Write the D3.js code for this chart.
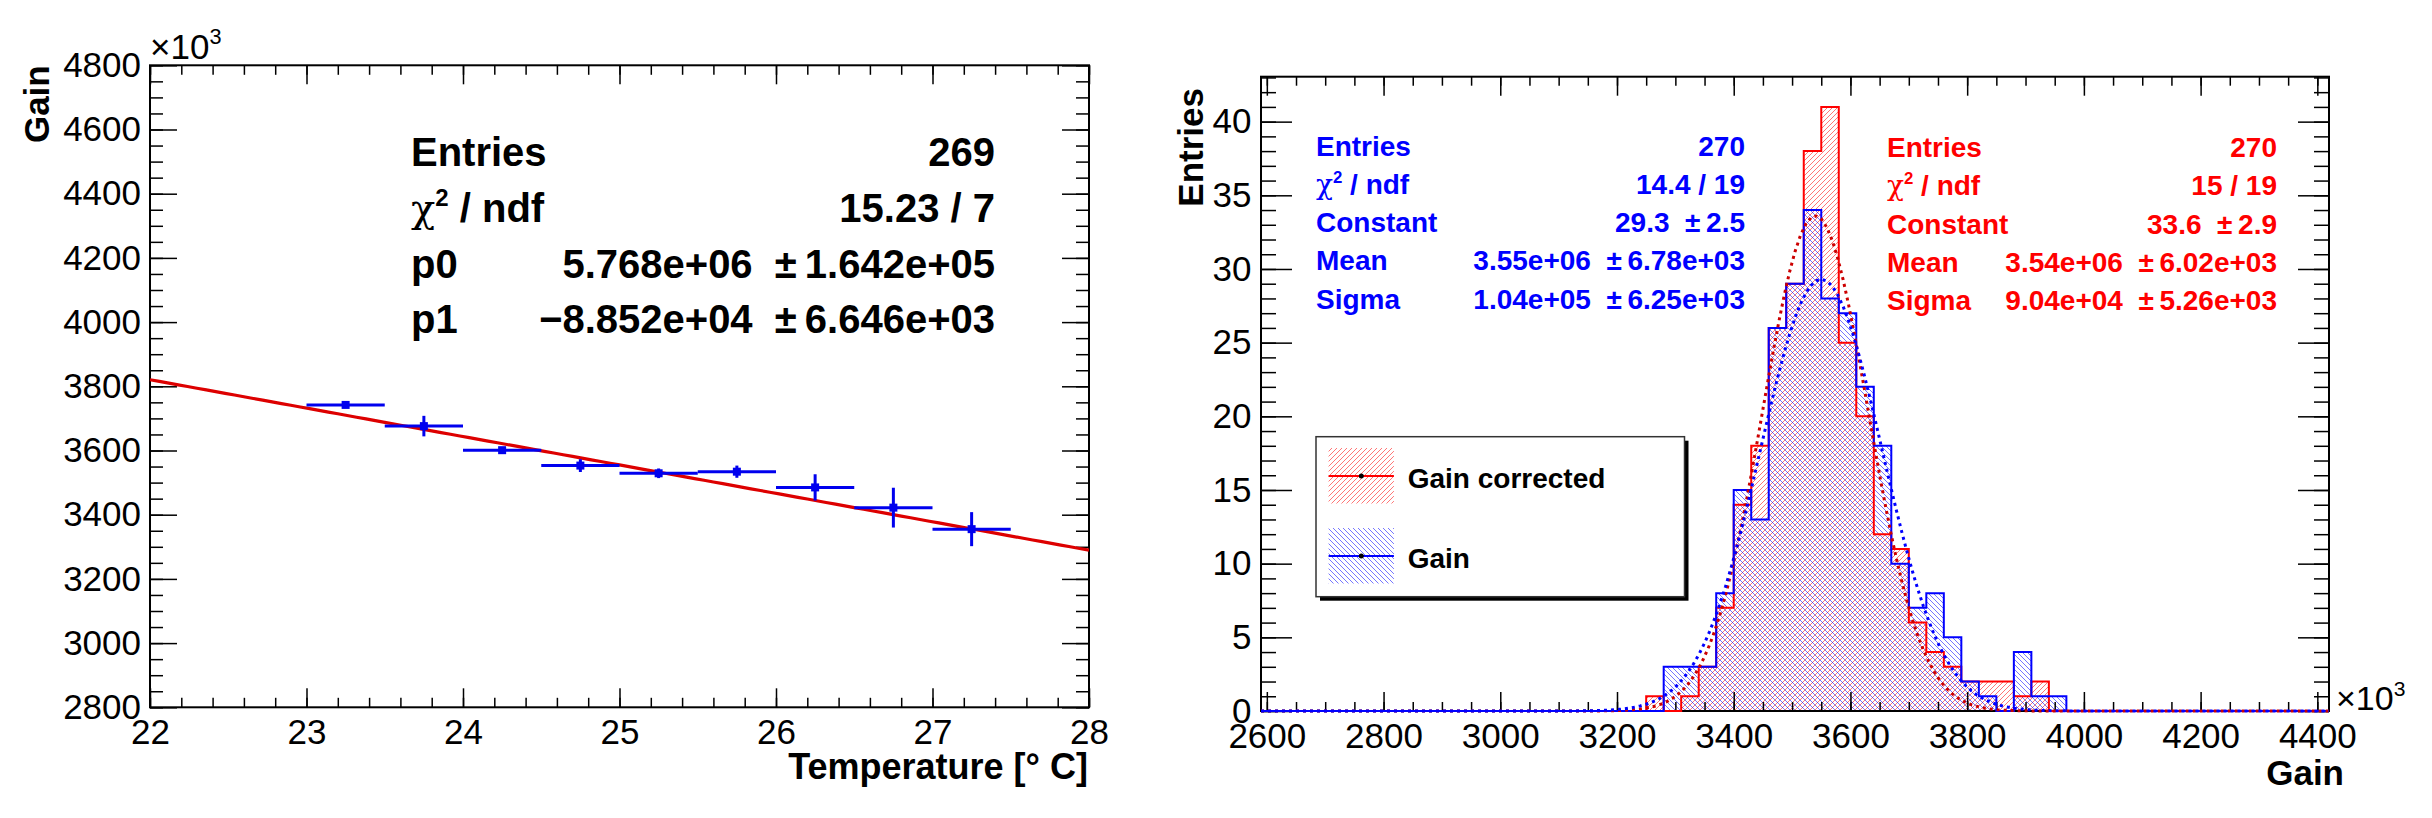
<!DOCTYPE html>
<html>
<head>
<meta charset="utf-8">
<script src="https://cdn.jsdelivr.net/npm/d3@7"></script>
<style>
  body { margin: 0; background: #fff; }
  svg { display: block; font-family: "Liberation Sans", Arial, Helvetica, sans-serif; }
  .stat { white-space: pre; }
</style>
</head>
<body>
<svg id="chart" width="2432" height="818"></svg>
<script>
// ---------- left panel: gain vs temperature (values in units of 10^3) ----------
const temperature = [23.25, 23.75, 24.25, 24.75, 25.25, 25.75, 26.25, 26.75, 27.25];
const tempHalfWidth = 0.25;
const gainMean = [3742, 3676, 3601, 3553, 3529, 3534, 3485, 3422, 3355];
const gainErr = [6, 32, 6, 20, 15, 19, 41, 62, 53];
const linFit = [5768.0, -88.52];   // p0, p1 (x10^3)

const leftStatNames = ['Entries', 'chi', 'p0', 'p1'];
const leftStatValues = ['269', '15.23 / 7', '5.768e+06', '\u22128.852e+04'];
const leftStatErrors = ['', '', '1.642e+05', '6.646e+03'];

// ---------- right panel: gain distributions (x10^3) ----------
const histRange = [2590, 4420];
const binWidth = 30;
const binLowEdges = [3250, 3280, 3310, 3340, 3370, 3400, 3430, 3460, 3490, 3520, 3550, 3580,
                     3610, 3640, 3670, 3700, 3730, 3760, 3790, 3820, 3850, 3880, 3910, 3940];
const gainCorrectedCounts = [1, 0, 1, 3, 7, 14, 18, 26, 29, 38, 41, 25, 20, 12, 11, 6, 4, 3, 2, 2, 2, 1, 2, 0];
const gainCounts          = [0, 3, 3, 3, 8, 15, 13, 26, 29, 34, 28, 27, 22, 18, 10, 7, 8, 5, 2, 1, 0, 4, 1, 1];
const gausCorrected = [33.6, 3540, 90.4];   // constant, mean, sigma
const gausGain      = [29.3, 3550, 104];

const rightStatNames = ['Entries', 'chi', 'Constant', 'Mean', 'Sigma'];
const gainStatValues = ['270', '14.4 / 19', '29.3', '3.55e+06', '1.04e+05'];
const gainStatErrors = ['', '', '2.5', '6.78e+03', '6.25e+03'];
const corrStatValues = ['270', '15 / 19', '33.6', '3.54e+06', '9.04e+04'];
const corrStatErrors = ['', '', '2.9', '6.02e+03', '5.26e+03'];
const legendLabels = ['Gain corrected', 'Gain'];

const RED = '#ff0000', BLUE = '#0000ff';
const svg = d3.select('#chart');
const defs = svg.append('defs');

function hatch(id, colour, forward) {
  const p = defs.append('pattern')
    .attr('id', id)
    .attr('patternUnits', 'userSpaceOnUse')
    .attr('width', 5).attr('height', 5);
  p.append('path')
    .attr('d', forward ? 'M-1,1 L1,-1 M0,5 L5,0 M4,6 L6,4' : 'M-1,4 L1,6 M0,0 L5,5 M4,-1 L6,1')
    .attr('stroke', colour)
    .attr('stroke-width', 0.9)
    .attr('opacity', 0.6);
}
hatch('hatch-red', RED, true);
hatch('hatch-blue', BLUE, false);

// ROOT style axes: ticks inside on all four sides, frame around
function drawAxes(g, x, y, cfg) {
  const [xa, xb] = x.range();
  const [yb, ya] = y.range();
  const style = sel => {
    sel.select('.domain').remove();
    sel.selectAll('line').attr('stroke', '#000').attr('stroke-width', 1.5);
    sel.selectAll('text')
      .attr('fill', '#000')
      .attr('font-size', 35)
      .attr('font-family', '"Liberation Sans", Arial, sans-serif');
    sel.attr('font-size', null).attr('font-family', null);
  };
  const noLabel = () => '';

  g.append('g').attr('transform', `translate(0,${yb})`)
    .call(d3.axisBottom(x).tickValues(cfg.xMinor).tickSize(-cfg.xTick[1]).tickFormat(noLabel)).call(style);
  g.append('g').attr('transform', `translate(0,${yb})`)
    .call(d3.axisBottom(x).tickValues(cfg.xMajor).tickSize(-cfg.xTick[0]).tickPadding(cfg.xPad).tickFormat(d3.format('d'))).call(style);
  g.append('g').attr('transform', `translate(0,${ya})`)
    .call(d3.axisTop(x).tickValues(cfg.xMinor).tickSize(-cfg.xTick[1]).tickFormat(noLabel)).call(style);
  g.append('g').attr('transform', `translate(0,${ya})`)
    .call(d3.axisTop(x).tickValues(cfg.xMajor).tickSize(-cfg.xTick[0]).tickFormat(noLabel)).call(style);

  g.append('g').attr('transform', `translate(${xa},0)`)
    .call(d3.axisLeft(y).tickValues(cfg.yMinor).tickSize(-cfg.yTick[1]).tickFormat(noLabel)).call(style);
  g.append('g').attr('transform', `translate(${xa},0)`)
    .call(d3.axisLeft(y).tickValues(cfg.yMajor).tickSize(-cfg.yTick[0]).tickPadding(cfg.yPad).tickFormat(d3.format('d'))).call(style);
  g.append('g').attr('transform', `translate(${xb},0)`)
    .call(d3.axisRight(y).tickValues(cfg.yMinor).tickSize(-cfg.yTick[1]).tickFormat(noLabel)).call(style);
  g.append('g').attr('transform', `translate(${xb},0)`)
    .call(d3.axisRight(y).tickValues(cfg.yMajor).tickSize(-cfg.yTick[0]).tickFormat(noLabel)).call(style);

  g.append('rect')
    .attr('x', xa).attr('y', ya)
    .attr('width', xb - xa).attr('height', yb - ya)
    .attr('fill', 'none').attr('stroke', '#000').attr('stroke-width', 2);
}

function times10cubed(g, x, y, size) {
  const t = g.append('text').attr('x', x).attr('y', y).attr('font-size', size).attr('fill', '#000');
  t.append('tspan').text('\u00d710');
  t.append('tspan').attr('dy', -size * 0.42).attr('font-size', size * 0.62).text('3');
}

// stat box rows; label 'chi' becomes chi^2 / ndf
function statRows(g, cfg) {
  cfg.names.forEach((name, i) => {
    const yy = cfg.y0 + i * cfg.dy;
    const lab = g.append('text')
      .attr('x', cfg.xLabel).attr('y', yy)
      .attr('font-size', cfg.size).attr('font-weight', 'bold').attr('fill', cfg.colour);
    if (name === 'chi') {
      lab.append('tspan').attr('font-weight', 'normal').attr('font-family', '"DejaVu Serif", serif').text('\u03c7');
      lab.append('tspan').attr('dy', -cfg.size * 0.38).attr('font-size', cfg.size * 0.6).text('2');
      lab.append('tspan').attr('dy', cfg.size * 0.38).text(' / ndf');
    } else {
      lab.text(name);
    }
    const err = cfg.errors[i];
    g.append('text')
      .attr('class', 'stat')
      .attr('x', cfg.xValue).attr('y', yy)
      .attr('text-anchor', 'end')
      .attr('font-size', cfg.size).attr('font-weight', 'bold').attr('fill', cfg.colour)
      .text(err ? `${cfg.values[i]}\u00a0\u00a0\u00b1\u2009${err}` : cfg.values[i]);
  });
}

// ================= LEFT PANEL =================
const left = svg.append('g');
const xT = d3.scaleLinear().domain([22, 28]).range([150, 1089]);
const yG = d3.scaleLinear().domain([2800, 4800]).range([707.3, 65.3]);

drawAxes(left, xT, yG, {
  xMajor: d3.range(22, 28.01, 1),
  xMinor: d3.range(22, 28.01, 0.2),
  yMajor: d3.range(2800, 4801, 200),
  yMinor: d3.range(2800, 4801, 50),
  xTick: [19, 9.5], yTick: [27, 13],
  xPad: 12, yPad: 9
});

// fit line evaluated from p0 + p1*T
const fitX = d3.range(22, 28.001, 0.06);
left.append('path')
  .datum(fitX)
  .attr('fill', 'none')
  .attr('stroke', '#dd0000')
  .attr('stroke-width', 3.2)
  .attr('d', d3.line().x(t => xT(t)).y(t => yG(linFit[0] + linFit[1] * t)));

const pts = left.append('g').attr('fill', '#0000ee').attr('stroke', '#0000ee');
pts.selectAll('.xerr').data(temperature).join('line')
  .attr('x1', t => xT(t - tempHalfWidth)).attr('x2', t => xT(t + tempHalfWidth))
  .attr('y1', (t, i) => yG(gainMean[i])).attr('y2', (t, i) => yG(gainMean[i]))
  .attr('stroke-width', 3);
pts.selectAll('.yerr').data(temperature).join('line')
  .attr('x1', t => xT(t)).attr('x2', t => xT(t))
  .attr('y1', (t, i) => yG(gainMean[i] - gainErr[i])).attr('y2', (t, i) => yG(gainMean[i] + gainErr[i]))
  .attr('stroke-width', 3);
pts.selectAll('rect').data(temperature).join('rect')
  .attr('x', t => xT(t) - 4).attr('y', (t, i) => yG(gainMean[i]) - 4)
  .attr('width', 8).attr('height', 8).attr('stroke', 'none');

statRows(left, {
  names: leftStatNames, values: leftStatValues, errors: leftStatErrors,
  xLabel: 411, xValue: 995, y0: 165.7, dy: 55.9, size: 40, colour: '#000'
});

times10cubed(left, 150, 59, 35);
left.append('text')
  .attr('x', 1088).attr('y', 779)
  .attr('text-anchor', 'end').attr('font-size', 36).attr('font-weight', 'bold')
  .text('Temperature [\u00b0 C]');
left.append('text')
  .attr('transform', 'translate(49,65.3) rotate(-90)')
  .attr('text-anchor', 'end').attr('font-size', 35).attr('font-weight', 'bold')
  .text('Gain');

// ================= RIGHT PANEL =================
const right = svg.append('g');
const xH = d3.scaleLinear().domain(histRange).range([1261, 2329]);
const yH = d3.scaleLinear().domain([0, 43.05]).range([711, 76.7]);

function stepPoints(counts) {
  const p = [[histRange[0], 0], [binLowEdges[0], 0]];
  binLowEdges.forEach((e, i) => { p.push([e, counts[i]], [e + binWidth, counts[i]]); });
  p.push([binLowEdges[binLowEdges.length - 1] + binWidth, 0], [histRange[1], 0]);
  return p;
}
const stepLine = d3.line().x(d => xH(d[0])).y(d => yH(d[1]));

right.append('path').datum(stepPoints(gainCorrectedCounts))
  .attr('d', d => stepLine(d) + 'Z').attr('fill', 'url(#hatch-red)').attr('stroke', 'none');
right.append('path').datum(stepPoints(gainCounts))
  .attr('d', d => stepLine(d) + 'Z').attr('fill', 'url(#hatch-blue)').attr('stroke', 'none');

drawAxes(right, xH, yH, {
  xMajor: d3.range(2600, 4401, 200),
  xMinor: d3.range(2600, 4401, 50),
  yMajor: d3.range(0, 41, 5),
  yMinor: d3.range(0, 44, 1),
  xTick: [19, 9], yTick: [31, 15],
  xPad: 12, yPad: 9.5
});

right.append('path').datum(stepPoints(gainCorrectedCounts))
  .attr('d', stepLine).attr('fill', 'none').attr('stroke', RED).attr('stroke-width', 2);
right.append('path').datum(stepPoints(gainCounts))
  .attr('d', stepLine).attr('fill', 'none').attr('stroke', BLUE).attr('stroke-width', 2);

// gaussian fit curves from the fitted parameters
const gx = d3.range(histRange[0], histRange[1] + 0.1, 9.15);
const gaus = p => v => p[0] * Math.exp(-0.5 * ((v - p[1]) / p[2]) ** 2);
[[gausCorrected, '#cc0000'], [gausGain, BLUE]].forEach(([p, c]) => {
  const f = gaus(p);
  right.append('path').datum(gx)
    .attr('fill', 'none').attr('stroke', c).attr('stroke-width', 3)
    .attr('stroke-dasharray', '3,4')
    .attr('d', d3.line().x(v => xH(v)).y(v => yH(f(v))));
});

statRows(right, {
  names: rightStatNames, values: gainStatValues, errors: gainStatErrors,
  xLabel: 1316, xValue: 1745, y0: 155.5, dy: 38.3, size: 28, colour: BLUE
});
statRows(right, {
  names: rightStatNames, values: corrStatValues, errors: corrStatErrors,
  xLabel: 1887, xValue: 2277, y0: 156.7, dy: 38.4, size: 28, colour: RED
});

// legend
const leg = right.append('g');
leg.append('rect').attr('x', 1320).attr('y', 440.7).attr('width', 368.5).attr('height', 160).attr('fill', '#000');
leg.append('rect').attr('x', 1316).attr('y', 436.7).attr('width', 368.5).attr('height', 160)
  .attr('fill', '#fff').attr('stroke', '#333').attr('stroke-width', 1.5);
const legItems = [
  { label: legendLabels[0], fill: 'url(#hatch-red)', colour: RED, top: 448 },
  { label: legendLabels[1], fill: 'url(#hatch-blue)', colour: BLUE, top: 528 }
];
legItems.forEach(d => {
  leg.append('rect').attr('x', 1328.6).attr('y', d.top).attr('width', 65.3).attr('height', 55.5).attr('fill', d.fill);
  leg.append('line').attr('x1', 1328.6).attr('x2', 1393.9).attr('y1', d.top + 28).attr('y2', d.top + 28)
    .attr('stroke', d.colour).attr('stroke-width', 2);
  leg.append('circle').attr('cx', 1361.3).attr('cy', d.top + 28).attr('r', 2.5).attr('fill', '#000');
  leg.append('text').attr('x', 1407.7).attr('y', d.top + 39.5)
    .attr('font-size', 28).attr('font-weight', 'bold').attr('fill', '#000').text(d.label);
});

times10cubed(right, 2336, 710, 34);
right.append('text')
  .attr('x', 2344).attr('y', 785)
  .attr('text-anchor', 'end').attr('font-size', 35).attr('font-weight', 'bold')
  .text('Gain');
right.append('text')
  .attr('transform', 'translate(1203,88) rotate(-90)')
  .attr('text-anchor', 'end').attr('font-size', 35).attr('font-weight', 'bold')
  .text('Entries');
</script>
</body>
</html>
